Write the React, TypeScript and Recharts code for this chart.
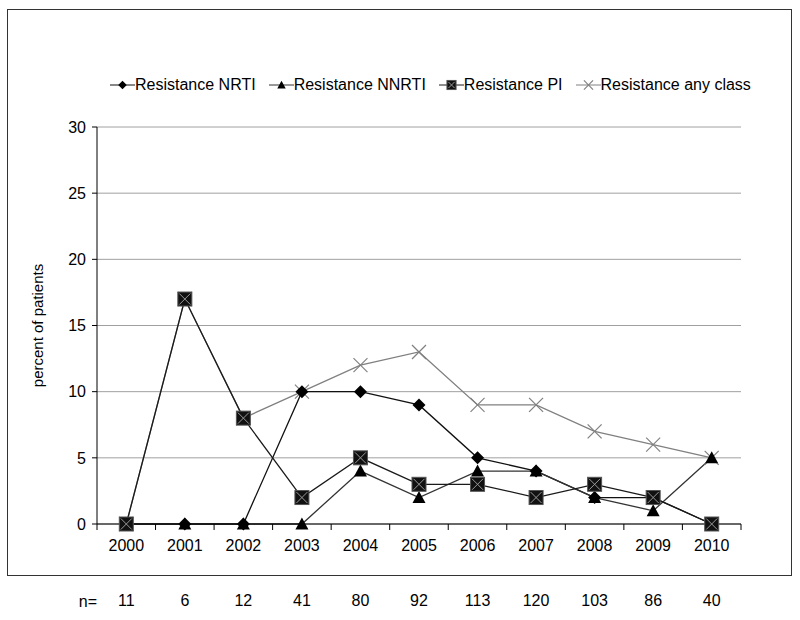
import React from 'react';
import { LineChart, Line, XAxis, YAxis, CartesianGrid, Legend } from 'recharts';

const years = ['2000', '2001', '2002', '2003', '2004', '2005', '2006', '2007', '2008', '2009', '2010'];
const nrti = [0, 0, 0, 10, 10, 9, 5, 4, 2, 2, 0];
const nnrti = [0, 0, 0, 0, 4, 2, 4, 4, 2, 1, 5];
const pi = [0, 17, 8, 2, 5, 3, 3, 2, 3, 2, 0];
const anyClass = [0, 17, 8, 10, 12, 13, 9, 9, 7, 6, 5];
const patients = [11, 6, 12, 41, 80, 92, 113, 120, 103, 86, 40];
const yTicks = [0, 5, 10, 15, 20, 25, 30];

const data = years.map((year, i) => ({
  year,
  n: String(patients[i]),
  nrti: nrti[i],
  nnrti: nnrti[i],
  pi: pi[i],
  anyClass: anyClass[i],
}));

const FONT = '"Liberation Sans", Arial, sans-serif';
const FS = 16;
const HALF_BAND = 29.3;

type Shape = 'diamond' | 'triangle' | 'square' | 'cross';

const Marker = ({ shape, cx, cy, s = 1 }: { shape: Shape; cx: number; cy: number; s?: number }) => {
  if (shape === 'diamond') {
    const r = 6.5 * s;
    return <polygon points={`${cx},${cy - r} ${cx + r},${cy} ${cx},${cy + r} ${cx - r},${cy}`} fill="#000" />;
  }
  if (shape === 'triangle') {
    const w = 6.5 * s;
    return <polygon points={`${cx},${cy - w} ${cx + w},${cy + w * 0.85} ${cx - w},${cy + w * 0.85}`} fill="#000" />;
  }
  if (shape === 'square') {
    const h = 7 * s;
    return (
      <g>
        <rect x={cx - h} y={cy - h} width={h * 2} height={h * 2} fill="#111" stroke="#555" strokeWidth={1} />
        <line x1={cx - h + 1.5} y1={cy - h + 1.5} x2={cx + h - 1.5} y2={cy + h - 1.5} stroke="#999" strokeWidth={1} />
        <line x1={cx - h + 1.5} y1={cy + h - 1.5} x2={cx + h - 1.5} y2={cy - h + 1.5} stroke="#999" strokeWidth={1} />
      </g>
    );
  }
  const h = 7 * s;
  return (
    <g>
      <line x1={cx - h} y1={cy - h} x2={cx + h} y2={cy + h} stroke="#808080" strokeWidth={1.2} />
      <line x1={cx - h} y1={cy + h} x2={cx + h} y2={cy - h} stroke="#808080" strokeWidth={1.2} />
    </g>
  );
};

const series = [
  { key: 'nrti', name: 'Resistance NRTI', shape: 'diamond' as Shape, color: '#111111' },
  { key: 'nnrti', name: 'Resistance NNRTI', shape: 'triangle' as Shape, color: '#333333' },
  { key: 'pi', name: 'Resistance PI', shape: 'square' as Shape, color: '#1a1a1a' },
  { key: 'anyClass', name: 'Resistance any class', shape: 'cross' as Shape, color: '#808080' },
];

// gray "any class" line goes underneath the others, as in the original
const drawOrder = ['anyClass', 'nrti', 'nnrti', 'pi'];

const LegendContent = () => (
  <div style={{ display: 'flex', fontFamily: FONT, fontSize: FS, color: '#000', whiteSpace: 'nowrap' }}>
    {series.map((s) => (
      <div key={s.key} style={{ display: 'flex', alignItems: 'center', marginRight: 13 }}>
        <svg width={25} height={14}>
          <line x1={0} y1={7} x2={25} y2={7} stroke={s.color} strokeWidth={1} />
          <Marker shape={s.shape} cx={12.5} cy={7} s={0.65} />
        </svg>
        <span>{s.name}</span>
      </div>
    ))}
  </div>
);

const YearTick = (props: any) => {
  const { x, y, payload, index, visibleTicksCount } = props;
  const half = payload && payload.offset ? payload.offset : HALF_BAND;
  const axisY = y - 16;
  return (
    <g>
      <line x1={x - half} x2={x - half} y1={axisY} y2={axisY + 6} stroke="#000" />
      {index === visibleTicksCount - 1 && (
        <line x1={x + half} x2={x + half} y1={axisY} y2={axisY + 6} stroke="#000" />
      )}
      <text x={x} y={y} dy="0.71em" textAnchor="middle" fontSize={FS} fontFamily={FONT} fill="#000">
        {payload.value}
      </text>
    </g>
  );
};

export default function App() {
  return (
    <div style={{ position: 'absolute', left: 0, top: 0, width: 800, height: 620, background: '#fff' }}>
      <div
        style={{
          position: 'absolute',
          left: 7,
          top: 9,
          width: 783,
          height: 565,
          border: '1px solid #333',
        }}
      />
      <LineChart
        width={800}
        height={620}
        data={data}
        margin={{ top: 109, right: 59, bottom: 10, left: 0 }}
        style={{ position: 'absolute', left: 0, top: 0 }}
      >
        <CartesianGrid vertical={false} stroke="#a0a0a0" strokeWidth={1} xAxisId="a_year" />
        <XAxis
          xAxisId="z_n"
          dataKey="n"
          height={56}
          axisLine={false}
          tickLine={false}
          tickSize={39}
          tickMargin={2}
          interval={0}
          padding={{ left: HALF_BAND, right: HALF_BAND }}
          tick={{ fontSize: FS, fontFamily: FONT, fill: '#000' }}
          label={{ value: 'n=', position: 'left', offset: 0, dy: 19, fontSize: FS, fontFamily: FONT, fill: '#000' }}
        />
        <XAxis
          xAxisId="a_year"
          dataKey="year"
          height={30}
          stroke="#000"
          tickLine={false}
          tickSize={6}
          tickMargin={10}
          tick={<YearTick />}
          interval={0}
          padding={{ left: HALF_BAND, right: HALF_BAND }}
        />
        <YAxis
          width={97}
          domain={[0, 30]}
          ticks={yTicks}
          interval={0}
          stroke="#000"
          tickSize={5}
          tickMargin={6}
          tick={{ fontSize: FS, fontFamily: FONT, fill: '#000' }}
          label={{
            value: 'percent of patients',
            angle: -90,
            position: 'insideLeft',
            offset: 38,
            style: { textAnchor: 'middle', fontSize: 15, fontFamily: FONT, fill: '#000' },
          }}
        />
        <Legend
          verticalAlign="top"
          content={<LegendContent />}
          wrapperStyle={{ position: 'absolute', top: 76, left: 110, width: 'auto' }}
        />
        {drawOrder.map((k) => {
          const s = series.find((x) => x.key === k)!;
          return (
            <Line
              key={s.key}
              xAxisId="a_year"
              type="linear"
              dataKey={s.key}
              name={s.name}
              stroke={s.color}
              strokeWidth={1.3}
              isAnimationActive={false}
              dot={(p: any) => <Marker key={`${s.key}-${p.index}`} shape={s.shape} cx={p.cx} cy={p.cy} />}
              activeDot={false}
            />
          );
        })}
      </LineChart>
    </div>
  );
}
